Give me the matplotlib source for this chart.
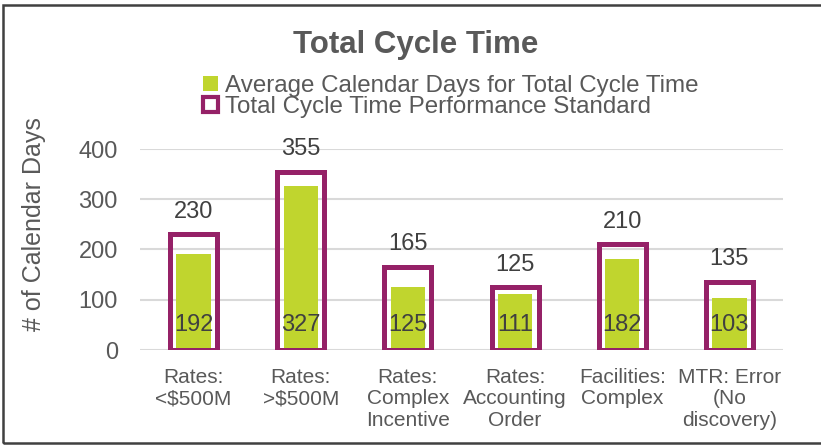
import matplotlib
matplotlib.use('Agg')
import matplotlib.pyplot as plt
from matplotlib.patches import Patch, Rectangle

plt.rcParams['font.family'] = ['Liberation Sans', 'DejaVu Sans']

categories = ['Rates:\n<$500M', 'Rates:\n>$500M', 'Rates:\nComplex\nIncentive',
              'Rates:\nAccounting\nOrder', 'Facilities:\nComplex', 'MTR: Error\n(No\ndiscovery)']
avg_days = [192, 327, 125, 111, 182, 103]
standard_days = [230, 355, 165, 125, 210, 135]
yticks = [0, 100, 200, 300, 400]

green = '#C0D52E'
purple = '#952167'
gray = '#595959'
dark = '#404040'

fig = plt.figure(figsize=(8.21, 4.48), dpi=100)
ax = fig.add_axes([140 / 821, 98 / 448, 643 / 821, 201 / 448])

x = range(len(categories))
ax.bar(x, avg_days, width=0.32, color=green, zorder=2)
ax.bar(x, standard_days, width=0.44, facecolor='none', edgecolor=purple, linewidth=3.6, zorder=3)

for i, v in enumerate(standard_days):
    ax.annotate(str(v), (i, v), xytext=(0, 12), textcoords='offset points',
                ha='center', va='baseline', fontsize=17, color=dark, annotation_clip=False)
for i, v in enumerate(avg_days):
    ax.annotate(str(v), (i, 0), xytext=(0, 13.5), textcoords='offset points',
                ha='center', va='baseline', fontsize=17, color=dark, zorder=4)

ax.set_xlim(-0.5, len(categories) - 0.5)
ax.set_ylim(0, 400)
ax.set_yticks(yticks)
ax.set_xticks(list(x))
ax.set_xticklabels(categories, fontsize=15, color=gray, linespacing=1.15)
ax.tick_params(axis='x', length=0, pad=13)
ax.tick_params(axis='y', length=0, pad=16, labelsize=17, labelcolor=gray)
ax.yaxis.grid(True, color='#D9D9D9', linewidth=1.5, zorder=0)
ax.set_axisbelow(True)
for s in ax.spines.values():
    s.set_visible(False)

fig.text(34 / 821, 0.5, '# of Calendar Days', rotation=90, ha='center', va='center',
         fontsize=18, color=gray, transform=fig.transFigure)
fig.text(416 / 821, 1 - 44.5 / 448, 'Total Cycle Time', ha='center', va='center',
         fontsize=22.5, fontweight='bold', color=gray)

handles = [Patch(facecolor=green, edgecolor='none'),
           Patch(facecolor='white', edgecolor=purple, linewidth=3)]
labels = ['Average Calendar Days for Total Cycle Time', 'Total Cycle Time Performance Standard']
fig.legend(handles, labels, loc='upper left', bbox_to_anchor=(203 / 821, 1 - 75 / 448),
           frameon=False, fontsize=17.4, labelcolor=gray, handlelength=0.6, handleheight=0.6,
           handletextpad=0.3, labelspacing=-0.05, borderpad=0, borderaxespad=0)

fig.add_artist(Rectangle((3 / 821, 5 / 448), 1.0, 438 / 448, transform=fig.transFigure,
                         fill=False, edgecolor=dark, linewidth=1.8))

plt.savefig('out.png', dpi=100)
plt.close()
